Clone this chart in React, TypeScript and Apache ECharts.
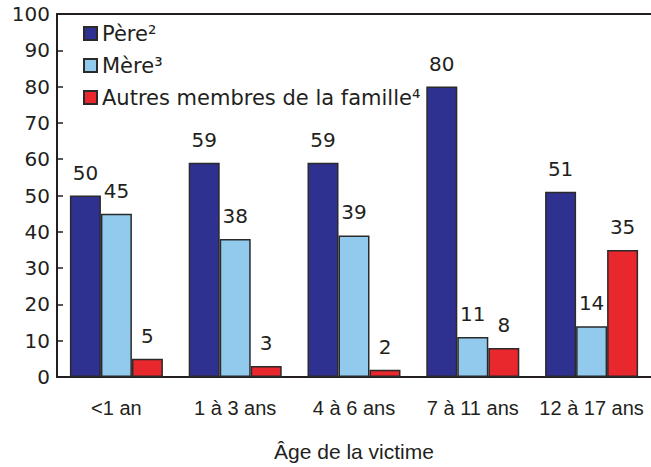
import React, { useEffect, useRef } from "react";
import * as echarts from "echarts";

const categories = ["<1 an", "1 à 3 ans", "4 à 6 ans", "7 à 11 ans", "12 à 17 ans"];
const pere = [50, 59, 59, 80, 51];
const mere = [45, 38, 39, 11, 14];
const autres = [5, 3, 2, 8, 35];
const seriesNames = ["Père²", "Mère³", "Autres membres de la famille⁴"];
const seriesColors = ["#2f3190", "#92caee", "#e8282d"];
const yMin = 0;
const yMax = 100;
const yInterval = 10;
const xTitle = "Âge de la victime";

const WIDE = "DejaVu Sans";
const NARROW = "Liberation Sans";

export default function App() {
  const ref = useRef<HTMLDivElement>(null);
  useEffect(() => {
    if (!ref.current) return;
    const chart = echarts.init(ref.current, undefined, { renderer: "svg" });
    const values = [pere, mere, autres];
    chart.setOption({
      animation: false,
      backgroundColor: "#ffffff",
      grid: { left: 57, right: -3.5, top: 14, bottom: 89, containLabel: false },
      legend: {
        orient: "vertical",
        left: 83,
        top: 23,
        padding: 0,
        itemWidth: 13,
        itemHeight: 13,
        itemGap: 11,
        icon: "rect",
        data: seriesNames,
        textStyle: { fontFamily: WIDE, fontSize: 21, color: "#231f20" },
      },
      xAxis: [
        {
          type: "category",
          data: categories,
          position: "bottom",
          axisLine: { show: true, lineStyle: { color: "#231f20", width: 2 } },
          axisTick: { show: false },
          axisLabel: { interval: 0, fontFamily: NARROW, fontSize: 20, color: "#231f20", margin: 21 },
          name: xTitle,
          nameLocation: "middle",
          nameGap: 64,
          nameTextStyle: { fontFamily: NARROW, fontSize: 21, color: "#231f20" },
        },
        {
          type: "category",
          data: categories,
          position: "top",
          axisLine: { show: true, lineStyle: { color: "#231f20", width: 2 } },
          axisTick: { show: false },
          axisLabel: { show: false },
        },
      ],
      yAxis: {
        type: "value",
        min: yMin,
        max: yMax,
        interval: yInterval,
        axisLine: { show: true, lineStyle: { color: "#231f20", width: 2 } },
        axisTick: { show: true, inside: true, length: 6, lineStyle: { color: "#231f20", width: 1.5 } },
        splitLine: { show: false },
        axisLabel: { fontFamily: WIDE, fontSize: 20, color: "#231f20", margin: 7 },
      },
      series: seriesNames.map((name, i) => ({
        name,
        type: "bar",
        data: values[i],
        barWidth: 31,
        barGap: "0%",
        itemStyle: { color: seriesColors[i], borderColor: "#2a2a2a", borderWidth: 1.5 },
        label: {
          show: true,
          position: "top",
          distance: 13,
          fontFamily: WIDE,
          fontSize: 20,
          color: "#231f20",
        },
      })),
    });
    return () => chart.dispose();
  }, []);
  return (
    <div
      ref={ref}
      style={{ position: "fixed", left: 0, top: 0, width: 651, height: 467 }}
    />
  );
}
